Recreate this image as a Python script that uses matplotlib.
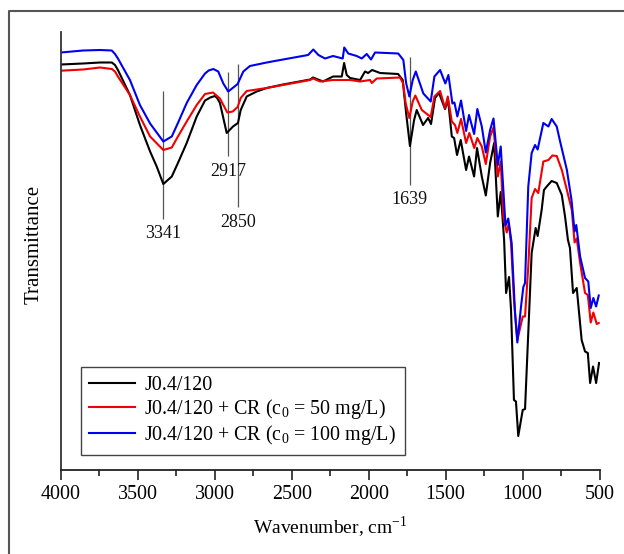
import matplotlib
matplotlib.use("Agg")
import matplotlib.pyplot as plt
from matplotlib.lines import Line2D
from matplotlib.ticker import MultipleLocator

plt.rcParams['font.family'] = ['Liberation Serif', 'DejaVu Serif']
plt.rcParams['mathtext.fontset'] = 'custom'
plt.rcParams['mathtext.rm'] = 'Liberation Serif'

# values, transmittance in arbitrary units
wn_black = [4000, 3857, 3746, 3670, 3649, 3630, 3552, 3487, 3421, 3378, 3335, 3280, 3240, 3183, 3118, 3064, 3030, 3000,
            2985, 2967, 2923, 2882, 2850, 2832, 2793, 2728, 2663, 2557, 2381, 2362, 2297, 2232, 2175, 2160, 2143,
            2121, 2056, 2024, 2004, 1978, 1926, 1809, 1779, 1757, 1732, 1705, 1688, 1647, 1614, 1595, 1569,
            1543, 1504, 1484, 1460, 1445, 1426, 1402, 1367, 1348, 1315, 1296, 1265, 1239, 1211, 1185, 1161,
            1142, 1120, 1107, 1088, 1075, 1056, 1043, 1028, 999, 984, 963, 941, 915, 902, 876, 861,
            843, 811, 778, 745, 724, 705, 692, 672, 648, 616, 594, 576, 561, 542, 522, 503]
t_black = [405, 406, 407, 407, 404.5, 399.5, 374.5, 344.5, 318, 303, 285.5, 293, 306.5, 326.5, 353, 369, 372, 373.5,
           371.5, 366.5, 336.5, 343, 346.5, 359.5, 373, 378, 381.5, 385, 390, 392, 388, 393, 393, 406.5, 394.5,
           391.5, 389.5, 398, 396.5, 399.5, 396.5, 395.5, 389.5, 356.5, 323.5, 349.5, 359.5, 344.5, 351.5, 345.5, 371.5,
           376.5, 360.5, 369.5, 333, 331.5, 314.5, 329.5, 299.5, 313, 293, 321.5, 293, 274, 306.5, 326.5, 253,
           277.5, 229.5, 176.5, 192.5, 159.5, 69.5, 68, 33.5, 59.5, 60.5, 136.5, 216.5, 241.5, 233.5, 259.5, 279.5,
           283, 288.5, 286.5, 274.5, 253, 229.5, 221.5, 176.5, 181.5, 129.5, 118, 116.5, 86.5, 103, 86.5, 106.5]

wn_red = [4000, 3857, 3746, 3670, 3649, 3630, 3552, 3487, 3421, 3335, 3280, 3240, 3183, 3118, 3064, 3012, 2967,
          2919, 2884, 2852, 2832, 2793, 2728, 2663, 2557, 2381, 2362, 2316, 2232, 2167, 2121, 2056, 1991,
          1980, 1948, 1797, 1777, 1760, 1736, 1714, 1697, 1655, 1597, 1573, 1536, 1504, 1486, 1460, 1439,
          1424, 1400, 1367, 1346, 1314, 1294, 1265, 1239, 1211, 1189, 1161, 1142, 1125, 1103, 1090, 1075,
          1056, 1034, 999, 984, 963, 941, 919, 898, 865, 832, 806, 778, 745, 712, 680, 662,
          648, 626, 594, 576, 557, 540, 518, 505]
t_red = [398.8, 400, 402, 400.5, 398, 393, 374.5, 353, 333, 319.5, 322, 333, 348, 364.5, 375.5, 377, 371,
         357, 358, 362.5, 371.5, 378.5, 380, 381.5, 384.5, 389.5, 391, 388, 389.5, 389.5, 389.5, 388, 389.5,
         386.5, 391, 392, 386.5, 366.5, 351.5, 368, 374, 359.5, 352.5, 373, 378.5, 361.5, 373, 348, 344.5,
         336.5, 350.5, 326.5, 336.5, 321.5, 331.5, 323, 305.5, 333, 342, 293, 308, 253, 237, 246, 226.5,
         169.5, 129.5, 153, 153, 203, 271.5, 280.5, 276.5, 308, 309.5, 314, 313.5, 299.5, 279.5, 259.5, 227,
         231, 206.5, 176.5, 174.5, 147, 157, 145.5, 146.5]

wn_blue = [4000, 3857, 3746, 3670, 3649, 3630, 3552, 3487, 3421, 3335, 3280, 3240, 3183, 3118, 3064, 3040, 3010, 2978,
           2945, 2913, 2880, 2852, 2815, 2772, 2663, 2557, 2394, 2360, 2327, 2284, 2232, 2169, 2159, 2133,
           2078, 2045, 2013, 1985, 1959, 1808, 1775, 1757, 1736, 1714, 1694, 1645, 1597, 1573, 1536, 1502,
           1482, 1456, 1443, 1424, 1400, 1367, 1348, 1315, 1294, 1265, 1239, 1211, 1189, 1161, 1142, 1111,
           1093, 1071, 1049, 1034, 1010, 995, 984, 963, 941, 919, 902, 865, 832, 811, 778, 756,
           712, 682, 662, 651, 626, 594, 573, 557, 540, 522, 505]
t_blue = [417, 419, 419.5, 419, 415.5, 411, 389.5, 364.5, 346, 328, 333, 346.5, 366.5, 384.5, 396, 399, 400.5, 398,
          386, 378, 382, 385.5, 398, 403.5, 407, 410, 414.5, 420, 414.5, 411, 413.5, 411, 422, 416,
          413.5, 411, 415.5, 410, 417, 416, 409.5, 386.5, 373, 389.5, 398, 376, 368, 393, 399.5, 386,
          394.5, 366, 367, 353, 369, 338.5, 354.5, 335.5, 360.5, 343, 317, 339.5, 351, 304.5, 323, 244,
          251, 226.5, 156.5, 127, 163, 182.5, 186.5, 282.8, 316.5, 324.5, 320, 346.5, 343, 350.5, 343, 328,
          299.5, 269.5, 238, 244.5, 213, 191.5, 188, 161.5, 171.5, 163, 174]

peak_x = [3335, 2913, 2852, 1732]
peak_low = [250.5, 313.5, 262.5, 284.5]
peak_high = [378.5, 397.8, 405.2, 412.2]
peak_labels = ['3341', '2917', '2850', '1639']
peak_label_y = [236.5, 297.5, 247, 269.5]

series_labels = ['J0.4/120',
                 'J0.4/120 + CR (c$_{\\mathrm{0}}$ = 50 mg/L)',
                 'J0.4/120 + CR (c$_{\\mathrm{0}}$ = 100 mg/L)']

W, H = 624, 554
fig = plt.figure(figsize=(W / 100, H / 100), dpi=100)
ax = fig.add_axes([61 / W, (H - 469.5) / H, 538.5 / W, 437.5 / H])

ax.plot(wn_black, t_black, color='black', lw=1.5, solid_joinstyle='round', label=series_labels[0])
ax.plot(wn_red, t_red, color='#f00000', lw=1.5, solid_joinstyle='round', label=series_labels[1])
ax.plot(wn_blue, t_blue, color='#0000f0', lw=1.5, solid_joinstyle='round', label=series_labels[2])

ax.set_xlim(4000, 500)
ax.set_ylim(0, 437.5)
ax.set_yticks([])
ax.xaxis.set_major_locator(MultipleLocator(500))
ax.xaxis.set_minor_locator(MultipleLocator(250))
ax.tick_params(axis='x', which='major', length=7, width=1.2, labelsize=14.4, pad=4, color='#222222')
ax.tick_params(axis='x', which='minor', length=4, width=1.2, color='#222222')
ax.spines['top'].set_visible(False)
ax.spines['right'].set_visible(False)
ax.spines['left'].set_linewidth(1.3)
ax.spines['bottom'].set_linewidth(1.3)
ax.spines['left'].set_color('#333333')
ax.spines['bottom'].set_color('#222222')

ax.vlines(peak_x, peak_low, peak_high, color='#555555', lw=0.9, zorder=1)
for x, y, s in zip(peak_x, peak_label_y, peak_labels):
    ax.text(x, y, s, fontsize=13, ha='center', va='center', color='#111111')

ax.set_xlabel('Wavenumber, cm$^{\\mathrm{-1}}$', fontsize=14, labelpad=8)
ax.set_ylabel('Transmittance', fontsize=15)
ax.yaxis.set_label_coords(-17 / 538.5, 0.514)

leg = ax.legend(loc='lower left', bbox_to_anchor=(20 / 538.5, 14.5 / 437.5), borderaxespad=0,
                fontsize=14.4, fancybox=False, framealpha=1, edgecolor='#444444',
                handlelength=2.3, handletextpad=0.45, labelspacing=0.1, borderpad=0.42)
leg.get_frame().set_linewidth(1.0)

# grey frame pasted round the figure
fig.add_artist(Line2D([9 / W, 9 / W, 1], [0, 1 - 10.5 / H, 1 - 10.5 / H], color='#555555', lw=1.5))

fig.savefig('out.png', dpi=100)
